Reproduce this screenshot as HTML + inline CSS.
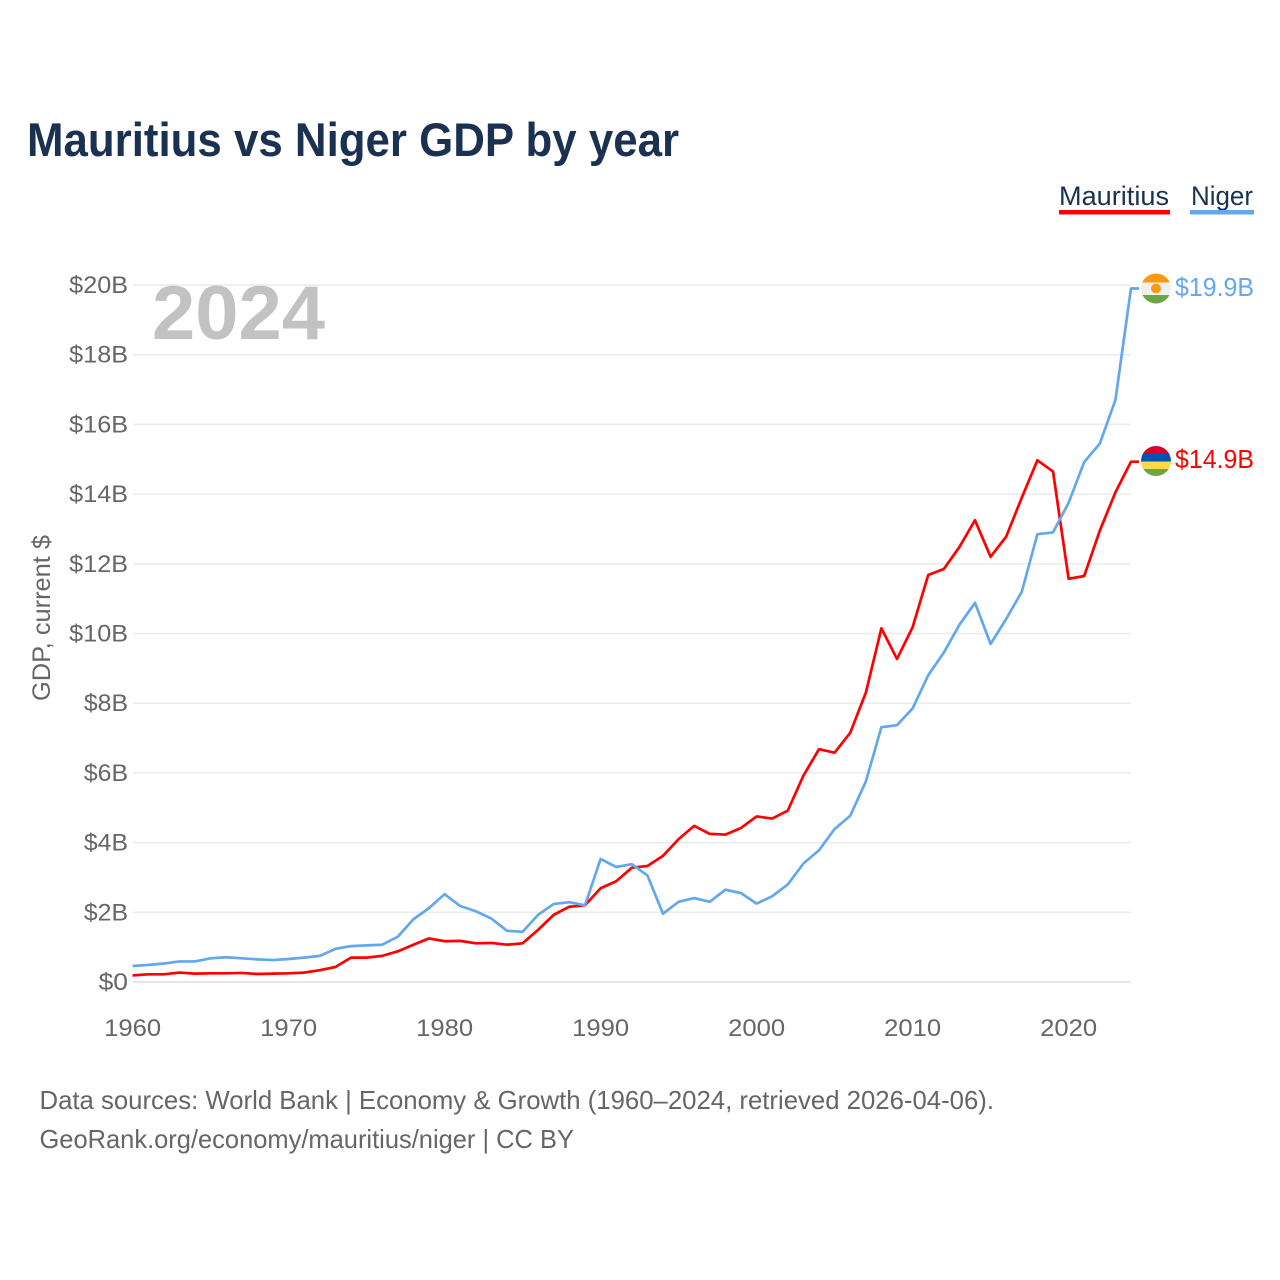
<!DOCTYPE html>
<html lang="en">
<head>
<meta charset="utf-8">
<title>Mauritius vs Niger GDP by year</title>
<style>
html,body{margin:0;padding:0;background:#fff;width:1280px;height:1280px;overflow:hidden}
svg{display:block}
text{font-family:"Liberation Sans",sans-serif}
</style>
</head>
<body>
<svg id="chart" xmlns="http://www.w3.org/2000/svg" width="1280" height="1280" viewBox="0 0 1280 1280">
  <defs>
    <clipPath id="clip-niger"><circle cx="1156" cy="288.5" r="15"/></clipPath>
    <clipPath id="clip-mauritius"><circle cx="1156" cy="461" r="15"/></clipPath>
  </defs>
  <text x="27" y="156" font-size="47" font-weight="700" fill="#1a3152" textLength="652" lengthAdjust="spacingAndGlyphs">Mauritius vs Niger GDP by year</text>

  <g>
    <g>
      <text x="1059" y="205" font-size="27" fill="#1a3152" textLength="110" lengthAdjust="spacingAndGlyphs">Mauritius</text>
      <rect x="1059" y="210" width="111" height="4.5" fill="#ff0000"/>
    </g>
    <g>
      <text x="1191" y="205" font-size="27" fill="#1a3152" textLength="62" lengthAdjust="spacingAndGlyphs">Niger</text>
      <rect x="1190" y="210" width="64" height="4.5" fill="#63a7ed"/>
    </g>
  </g>

  <g id="grid"></g>
  <g id="yticks"></g>
  <g id="xticks"></g>

  <text x="152" y="339" font-size="76" font-weight="700" fill="#c2c2c2" textLength="173" lengthAdjust="spacingAndGlyphs">2024</text>
  <text transform="translate(50,701) rotate(-90)" font-size="25" fill="#666666" textLength="166" lengthAdjust="spacingAndGlyphs">GDP, current $</text>

  <g id="series"></g>

  <g clip-path="url(#clip-niger)">
    <rect x="1141" y="273" width="30" height="9.5" fill="#ff9811"/>
    <rect x="1141" y="282.5" width="30" height="12.5" fill="#f0f0f0"/>
    <rect x="1141" y="295" width="30" height="10" fill="#6da544"/>
    <circle cx="1156" cy="288.5" r="5" fill="#ff9811"/>
  </g>
  <g clip-path="url(#clip-mauritius)">
    <rect x="1141" y="446" width="30" height="8" fill="#d80027"/>
    <rect x="1141" y="454" width="30" height="7.5" fill="#0052b4"/>
    <rect x="1141" y="461.5" width="30" height="7.5" fill="#ffda44"/>
    <rect x="1141" y="469" width="30" height="8" fill="#6da544"/>
  </g>

  <g id="endlabels"></g>

  <text x="39.5" y="1109" font-size="26" fill="#666666" textLength="954.5" lengthAdjust="spacingAndGlyphs">Data sources: World Bank | Economy &amp; Growth (1960–2024, retrieved 2026-04-06).</text>
  <text x="39.5" y="1148" font-size="26" fill="#666666" textLength="534.5" lengthAdjust="spacingAndGlyphs">GeoRank.org/economy/mauritius/niger | CC BY</text>
</svg>
<script>
var years = [1960,1961,1962,1963,1964,1965,1966,1967,1968,1969,1970,1971,1972,1973,1974,1975,1976,1977,1978,1979,1980,1981,1982,1983,1984,1985,1986,1987,1988,1989,1990,1991,1992,1993,1994,1995,1996,1997,1998,1999,2000,2001,2002,2003,2004,2005,2006,2007,2008,2009,2010,2011,2012,2013,2014,2015,2016,2017,2018,2019,2020,2021,2022,2023,2024];
var mauritius = [0.19,0.22,0.22,0.27,0.24,0.25,0.25,0.26,0.23,0.24,0.25,0.27,0.34,0.43,0.70,0.70,0.75,0.88,1.07,1.25,1.17,1.18,1.11,1.12,1.07,1.11,1.50,1.93,2.16,2.20,2.69,2.89,3.28,3.33,3.62,4.10,4.48,4.25,4.23,4.42,4.75,4.69,4.92,5.92,6.68,6.58,7.15,8.30,10.15,9.27,10.18,11.68,11.85,12.48,13.25,12.20,12.78,13.90,14.97,14.65,11.57,11.65,12.95,14.05,14.93];
var niger = [0.46,0.49,0.53,0.59,0.59,0.68,0.71,0.68,0.65,0.63,0.66,0.70,0.75,0.95,1.03,1.05,1.07,1.30,1.80,2.12,2.52,2.18,2.03,1.82,1.47,1.44,1.93,2.24,2.29,2.20,3.53,3.30,3.38,3.06,1.96,2.30,2.41,2.30,2.65,2.55,2.25,2.46,2.80,3.40,3.78,4.39,4.77,5.75,7.31,7.37,7.85,8.80,9.45,10.25,10.88,9.70,10.42,11.20,12.85,12.90,13.75,14.92,15.45,16.70,19.90];
var yTickValues = [0,2,4,6,8,10,12,14,16,18,20];
var yTickLabels = ["$0","$2B","$4B","$6B","$8B","$10B","$12B","$14B","$16B","$18B","$20B"];
var xTickValues = [1960,1970,1980,1990,2000,2010,2020];
var xTickLabels = ["1960","1970","1980","1990","2000","2010","2020"];
var endLabels = ["$14.9B","$19.9B"];

var NS = "http://www.w3.org/2000/svg";
function xScale(year){ return 132.6 + (year - 1960) * (1131 - 132.6) / 64; }
function yScale(v){ return 982 - v * (982 - 285) / 20; }

var grid = document.getElementById("grid");
var yticks = document.getElementById("yticks");
var xticks = document.getElementById("xticks");
var seriesGroup = document.getElementById("series");
var endGroup = document.getElementById("endlabels");

yTickValues.forEach(function(v, i){
  var line = document.createElementNS(NS, "line");
  
  
  line.setAttribute("x1", 133);
  line.setAttribute("x2", 1131);
  line.setAttribute("y1", yScale(v));
  line.setAttribute("y2", yScale(v));
  line.setAttribute("stroke", v === 0 ? "#e6e6e6" : "#ebebeb");
  line.setAttribute("stroke-width", v === 0 ? 2 : 1.5);
  grid.appendChild(line);

  var t = document.createElementNS(NS, "text");
  
  
  var w = yTickLabels[i].length * 14.7;
  t.setAttribute("x", 128 - w);
  t.setAttribute("y", yScale(v) + 8);
  t.setAttribute("font-size", 24.5);
  t.setAttribute("fill", "#666666");
  t.setAttribute("textLength", w);
  t.setAttribute("lengthAdjust", "spacingAndGlyphs");
  t.textContent = yTickLabels[i];
  yticks.appendChild(t);
});

xTickValues.forEach(function(y, i){
  var t = document.createElementNS(NS, "text");
  
  
  t.setAttribute("x", xScale(y) - 28.5);
  t.setAttribute("y", 1036);
  t.setAttribute("font-size", 24.5);
  t.setAttribute("fill", "#666666");
  t.setAttribute("textLength", 57);
  t.setAttribute("lengthAdjust", "spacingAndGlyphs");
  t.textContent = xTickLabels[i];
  xticks.appendChild(t);
});

function pathFor(values){
  var pts = values.map(function(v, i){ return xScale(years[i]).toFixed(2) + "," + yScale(v).toFixed(2); });
  var last = values[values.length - 1];
  pts.push("1139," + yScale(last).toFixed(2));
  return "M" + pts.join("L");
}

var mauritiusLine = document.createElementNS(NS, "path");


mauritiusLine.setAttribute("d", pathFor(mauritius));
mauritiusLine.setAttribute("fill", "none");
mauritiusLine.setAttribute("stroke", "#ff0000");
mauritiusLine.setAttribute("stroke-width", 2.7);
mauritiusLine.setAttribute("stroke-linejoin", "round");
seriesGroup.appendChild(mauritiusLine);

var nigerLine = document.createElementNS(NS, "path");


nigerLine.setAttribute("d", pathFor(niger));
nigerLine.setAttribute("fill", "none");
nigerLine.setAttribute("stroke", "#63a7ed");
nigerLine.setAttribute("stroke-width", 2.7);
nigerLine.setAttribute("stroke-linejoin", "round");
seriesGroup.appendChild(nigerLine);

var labelMauritius = document.createElementNS(NS, "text");


labelMauritius.setAttribute("x", 1175);
labelMauritius.setAttribute("y", 468);
labelMauritius.setAttribute("font-size", 26);
labelMauritius.setAttribute("fill", "#ff0000");
labelMauritius.setAttribute("textLength", 79);
labelMauritius.setAttribute("lengthAdjust", "spacingAndGlyphs");
labelMauritius.textContent = endLabels[0];
endGroup.appendChild(labelMauritius);

var labelNiger = document.createElementNS(NS, "text");


labelNiger.setAttribute("x", 1175);
labelNiger.setAttribute("y", 296);
labelNiger.setAttribute("font-size", 26);
labelNiger.setAttribute("fill", "#63a7ed");
labelNiger.setAttribute("textLength", 79);
labelNiger.setAttribute("lengthAdjust", "spacingAndGlyphs");
labelNiger.textContent = endLabels[1];
endGroup.appendChild(labelNiger);
</script>
</body>
</html>
